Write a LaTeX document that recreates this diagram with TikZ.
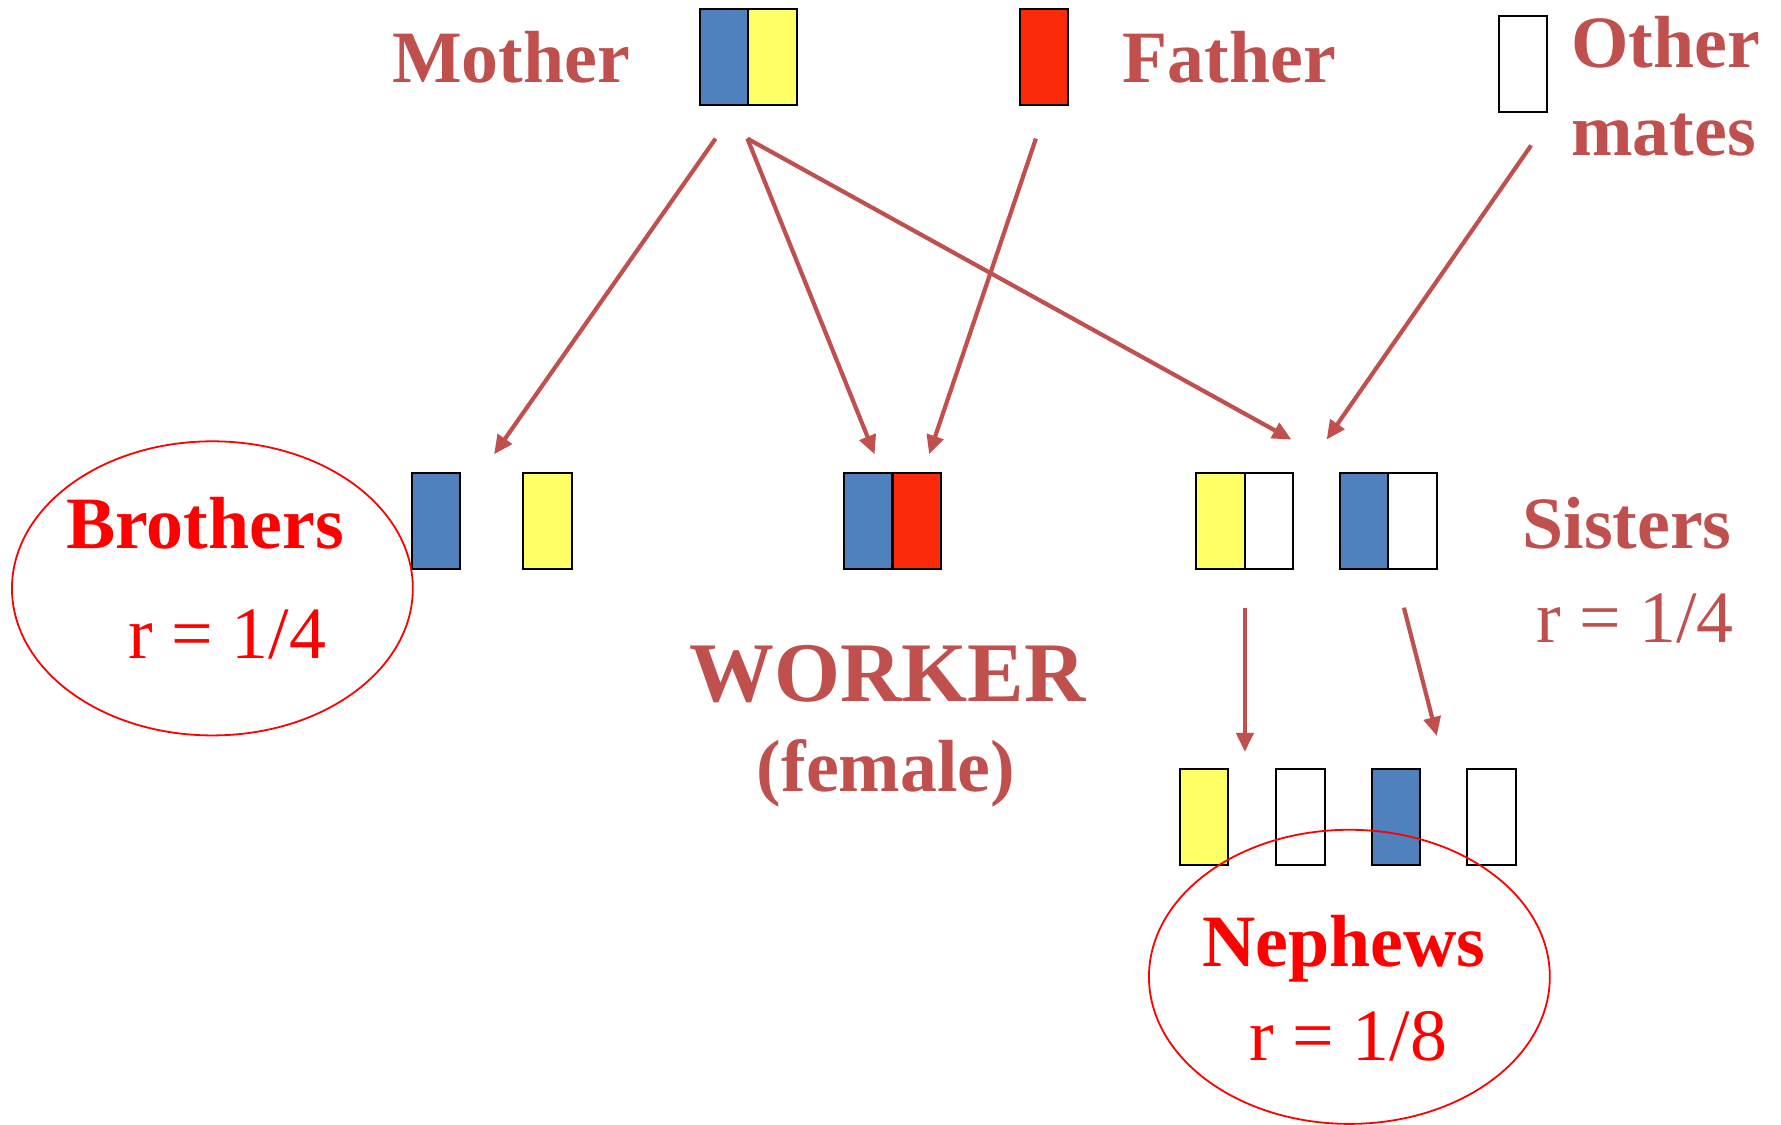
\documentclass[tikz,border=0pt]{standalone}
\usepackage{fontspec}
\setmainfont{Liberation Serif}
\usetikzlibrary{arrows.meta,shapes.geometric}
\definecolor{brick}{HTML}{C0504D}
\definecolor{alleleblue}{HTML}{4F81BD}
\definecolor{alleleyellow}{HTML}{FFFF66}
\definecolor{allelered}{RGB}{250,42,10}
\begin{document}
\begin{tikzpicture}[x=0.02cm,y=-0.02cm,
  gene/.style={draw=black, line width=1pt, minimum width=0.85cm, minimum height=1.69cm, inner sep=0pt},
  blueg/.style={gene, fill=alleleblue},
  yellowg/.style={gene, fill=alleleyellow},
  redg/.style={gene, fill=allelered},
  whiteg/.style={gene, fill=white},
  lbl/.style={text=brick, font=\fontsize{37}{40}\selectfont\bfseries, inner sep=0pt, anchor=base west},
  rlbl/.style={text=red, font=\fontsize{37}{40}\selectfont\bfseries, inner sep=0pt, anchor=base west},
  rval/.style={text=red, font=\fontsize{37}{40}\selectfont, inner sep=0pt, anchor=base west},
  bval/.style={text=brick, font=\fontsize{37}{40}\selectfont, inner sep=0pt, anchor=base west},
  conn/.style={draw=brick, line width=2.1pt, -{Triangle[length=9.5pt,width=8.5pt]}},
  ring/.style={ellipse, draw=red, line width=0.9pt, minimum width=7.06cm, minimum height=5.18cm, inner sep=0pt}]
\useasboundingbox (0,0) rectangle (1568,990);

% parents
\node[blueg] (momB) at (637.5,50.5) {};
\node[yellowg] (momY) at (680,50.5) {};
\node[redg] (dad) at (919,50.5) {};
\node[whiteg] (mate) at (1341,56) {};

% offspring of the queen
\node[blueg] (broB) at (384,459) {};
\node[yellowg] (broY) at (482,459) {};
\node[blueg] (wkB) at (764.5,459) {};
\node[redg] (wkR) at (807,459) {};
\node[yellowg] (s1Y) at (1074.5,459) {};
\node[whiteg] (s1W) at (1117,459) {};
\node[blueg] (s2B) at (1201,459) {};
\node[whiteg] (s2W) at (1243.5,459) {};

% nephews
\node[yellowg] (nY) at (1060,719) {};
\node[whiteg] (nW1) at (1145,719) {};
\node[blueg] (nB) at (1229,719) {};
\node[whiteg] (nW2) at (1313,719) {};

% connector ends
\coordinate (mL) at (630,122);
\coordinate (mR) at (658,122);
\coordinate (fT) at (912,122);
\coordinate (oT) at (1348,128);
\coordinate (brA) at (435,400);
\coordinate (wkA1) at (770,400);
\coordinate (wkA2) at (818,400);
\coordinate (siA1) at (1137,387);
\coordinate (siA2) at (1168,387);
\coordinate (s1D) at (1096,535);
\coordinate (nA1) at (1096,662);
\coordinate (s2D) at (1236,535);
\coordinate (nA2) at (1265,648);

\draw[conn] (mL) -- (brA);
\draw[conn] (mR) -- (wkA1);
\draw[conn] (mR) -- (siA1);
\draw[conn] (fT) -- (wkA2);
\draw[conn] (oT) -- (siA2);
\draw[conn] (s1D) -- (nA1);
\draw[conn] (s2D) -- (nA2);

% relatedness rings
\node[ring] (broRing) at (187,518) {};
\node[ring] (nephRing) at (1188,860) {};

% labels
\node[lbl] (tMother) at (345,73) {Mother};
\node[lbl] (tFather) at (988,73) {Father};
\node[lbl] (tOther) at (1383,59) {Other};
\node[lbl] (tMates) at (1383,137) {mates};
\node[rlbl] (tBro) at (58,483) {Brothers};
\node[rval] (tBroR) at (113,580) {r = 1/4};
\node[lbl, font=\fontsize{42.5}{46}\selectfont\bfseries] (tWorker) at (607,618) {WORKER};
\node[lbl] (tFemale) at (666,697) {(female)};
\node[lbl] (tSis) at (1340,483) {Sisters};
\node[bval] (tSisR) at (1352,566) {r = 1/4};
\node[rlbl] (tNeph) at (1058,851) {Nephews};
\node[rval] (tNephR) at (1100,934) {r = 1/8};
\end{tikzpicture}
\end{document}
